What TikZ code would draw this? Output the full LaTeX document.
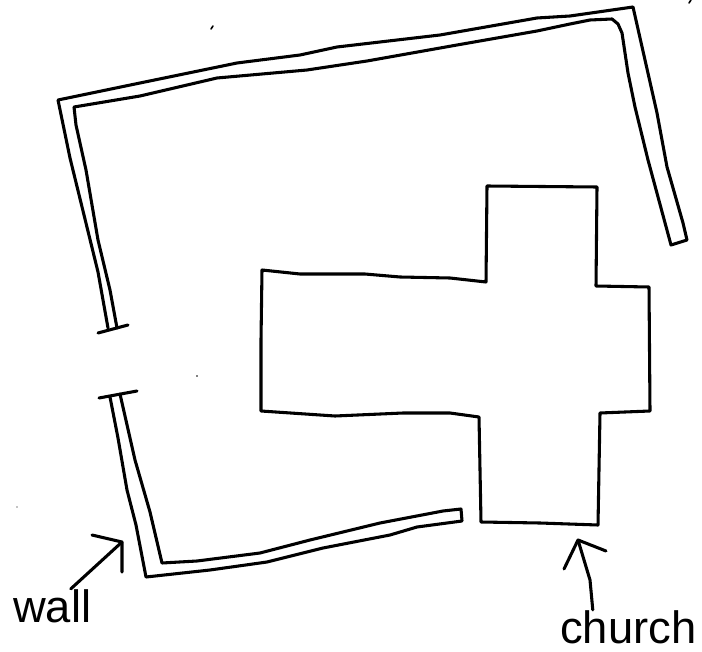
\documentclass[tikz,border=0pt]{standalone}
\usepackage{fontspec}
\setmainfont{Liberation Sans}
\usetikzlibrary{calc}

\begin{document}
\begin{tikzpicture}[
  x=0.75pt, y=-0.75pt,
  pen/.style={line width=2.3pt, line join=round, line cap=round},
  speck/.style={line width=1.2pt, line cap=round},
  tag/.style={inner sep=0pt, anchor=base west, font=\fontsize{34}{34}\selectfont}
]
\useasboundingbox (0,0) rectangle (702,652);
% upper wall
\draw[pen] (108,328) -- (98,272) -- (84,215) -- (70,158) -- (58,100) -- (140,83) -- (237,63)
  -- (300,55) -- (337,47) -- (440,35) -- (537,18) -- (570,16) -- (633,7) -- (645,60)
  -- (657,113) -- (667,167) -- (683,223) -- (687,240) -- (671,245) -- (648,160) -- (635,107)
  -- (628,73) -- (622,33) -- (618,24) -- (612,19) -- (590,20) -- (570,24) -- (537,31)
  -- (457,45) -- (367,61) -- (307,70) -- (217,78) -- (140,96) -- (74,107) -- (76,125)
  -- (86,170) -- (98,240) -- (110,290) -- (117,328);
\draw[pen] (98,333) -- (128,325);
% lower wall
\draw[pen] (99,398) -- (137,391);
\draw[pen] (110,397) -- (118,438) -- (127,490) -- (136,525) -- (146,577) -- (210,570)
  -- (267,562) -- (323,548) -- (390,535) -- (417,527) -- (462,521) -- (461,509) -- (443,511)
  -- (380,523) -- (310,540) -- (260,553) -- (197,561) -- (162,563) -- (150,512) -- (135,460)
  -- (120,394);
% church
\draw[pen] (262,270) -- (300,274) -- (365,274) -- (400,277) -- (450,278) -- (486,282)
  -- (487,186) -- (597,187) -- (596,286) -- (649,287) -- (650,411) -- (600,413) -- (598,525)
  -- (540,523) -- (481,522) -- (479,417) -- (450,413) -- (403,413) -- (335,416) -- (261,411)
  -- (261,340) -- cycle;
% labels
\node[tag] (wall) at (13,622) {wall};
\node[tag] (church) at (560,643) {church};
\coordinate (walltip) at (122,542);
\coordinate (churchtip) at (578,540);
\draw[pen] (wall) -- (walltip);
\draw[pen] (92,535) -- (walltip) -- (122,572);
\draw[pen] ($(church.north west)!0.24!(church.north east)$) -- (590,580) -- (churchtip);
\draw[pen] (564,569) -- (churchtip) -- (606,551);
% specks
\draw[speck] (213,26) -- (211,29);
\draw[speck] (691,0) -- (689,3);
\fill (197,376) circle (0.8);
\fill (17,507) circle (0.6);
\end{tikzpicture}
\end{document}
